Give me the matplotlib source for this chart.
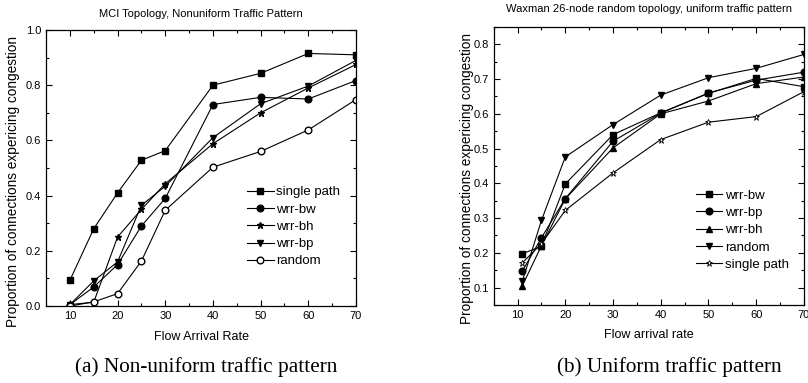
#!/usr/bin/env python3

import matplotlib
matplotlib.use("Agg")
import matplotlib.pyplot as plt
from matplotlib.ticker import MultipleLocator

plt.rcParams["font.family"] = ["Liberation Sans Narrow", "Liberation Sans", "DejaVu Sans"]

# (a) MCI topology, nonuniform traffic
rate_a = [10, 15, 20, 25, 30, 40, 50, 60, 70]
single_path_a = [0.093, 0.28, 0.41, 0.528, 0.563, 0.80, 0.843, 0.915, 0.91]
wrr_bw_a = [0.005, 0.069, 0.15, 0.29, 0.39, 0.73, 0.756, 0.75, 0.817]
wrr_bh_a = [0.005, 0.014, 0.25, 0.35, 0.443, 0.588, 0.70, 0.79, 0.875]
wrr_bp_a = [0.005, 0.091, 0.16, 0.365, 0.434, 0.61, 0.733, 0.797, 0.89]
random_a = [0.0, 0.015, 0.045, 0.163, 0.347, 0.503, 0.56, 0.638, 0.748]

# (b) Waxman 26-node, uniform traffic
rate_b = [11, 15, 20, 30, 40, 50, 60, 70]
wrr_bw_b = [0.197, 0.219, 0.398, 0.54, 0.603, 0.659, 0.702, 0.678]
wrr_bp_b = [0.147, 0.243, 0.356, 0.521, 0.602, 0.66, 0.697, 0.72]
wrr_bh_b = [0.105, 0.22, 0.355, 0.502, 0.60, 0.637, 0.687, 0.706]
random_b = [0.118, 0.293, 0.476, 0.569, 0.654, 0.704, 0.731, 0.771]
single_path_b = [0.171, 0.226, 0.322, 0.43, 0.526, 0.576, 0.592, 0.664]

fig = plt.figure(figsize=(8.08, 3.83), dpi=100)
ax1 = fig.add_axes([0.057, 0.201, 0.3836, 0.7207])
ax2 = fig.add_axes([0.611, 0.204, 0.384, 0.7255])

kw = dict(color="black", linewidth=0.8, markersize=4.8)

ax1.plot(rate_a, single_path_a, marker="s", label="single path", **kw)
ax1.plot(rate_a, wrr_bw_a, marker="o", label="wrr-bw", **kw)
ax1.plot(rate_a, wrr_bh_a, marker="*", label="wrr-bh", **kw)
ax1.plot(rate_a, wrr_bp_a, marker="v", label="wrr-bp", **kw)
ax1.plot(rate_a, random_a, marker="o", markerfacecolor="white", label="random", **kw)

ax2.plot(rate_b, wrr_bw_b, marker="s", label="wrr-bw", **kw)
ax2.plot(rate_b, wrr_bp_b, marker="o", label="wrr-bp", **kw)
ax2.plot(rate_b, wrr_bh_b, marker="^", label="wrr-bh", **kw)
ax2.plot(rate_b, random_b, marker="v", label="random", **kw)
ax2.plot(rate_b, single_path_b, marker="*", markerfacecolor="white", markeredgewidth=0.6,
         label="single path", **kw)

ax1.set_xlim(5, 70)
ax1.set_ylim(0.0, 1.0)
ax1.yaxis.set_major_locator(MultipleLocator(0.2))
ax1.yaxis.set_minor_locator(MultipleLocator(0.1))
ax1.yaxis.set_major_formatter(plt.FormatStrFormatter("%.1f"))
ax1.set_title("MCI Topology, Nonuniform Traffic Pattern", fontsize=8, pad=9)
ax1.set_xlabel("Flow Arrival Rate", fontsize=9, labelpad=7)

ax2.set_xlim(5, 70)
ax2.set_ylim(0.05, 0.85)
ax2.yaxis.set_major_locator(MultipleLocator(0.1))
ax2.yaxis.set_minor_locator(MultipleLocator(0.05))
ax2.set_title("Waxman 26-node random topology, uniform traffic pattern", fontsize=8, pad=11)
ax2.set_xlabel("Flow arrival rate", fontsize=9, labelpad=7)

legend_pos = {ax1: (0.306, 0.514), ax2: (0.861, 0.505)}
for ax in (ax1, ax2):
    ax.xaxis.set_major_locator(MultipleLocator(10))
    ax.xaxis.set_minor_locator(MultipleLocator(5))
    ax.tick_params(which="both", direction="in", top=True, right=True, labelsize=8, width=0.8)
    ax.tick_params(which="major", length=4)
    ax.tick_params(which="minor", length=2)
    ax.set_ylabel("Proportion of connections expericing congestion", fontsize=9.8)
    for s in ax.spines.values():
        s.set_linewidth(0.9)
    ax.legend(loc="upper left", bbox_to_anchor=legend_pos[ax], bbox_transform=fig.transFigure,
              frameon=False, fontsize=9.5, borderpad=0, borderaxespad=0,
              handlelength=2.0, handletextpad=0.2, labelspacing=0.38)

ax1.yaxis.set_label_coords(-0.084, 0.45)
ax2.yaxis.set_label_coords(-0.065, 0.453)

fig.text(0.255, 0.03, "(a) Non-uniform traffic pattern", ha="center", va="baseline",
         fontsize=15.3, family="Liberation Serif")
fig.text(0.828, 0.03, "(b) Uniform traffic pattern", ha="center", va="baseline",
         fontsize=15.3, family="Liberation Serif")

fig.savefig("out.png", dpi=100)
